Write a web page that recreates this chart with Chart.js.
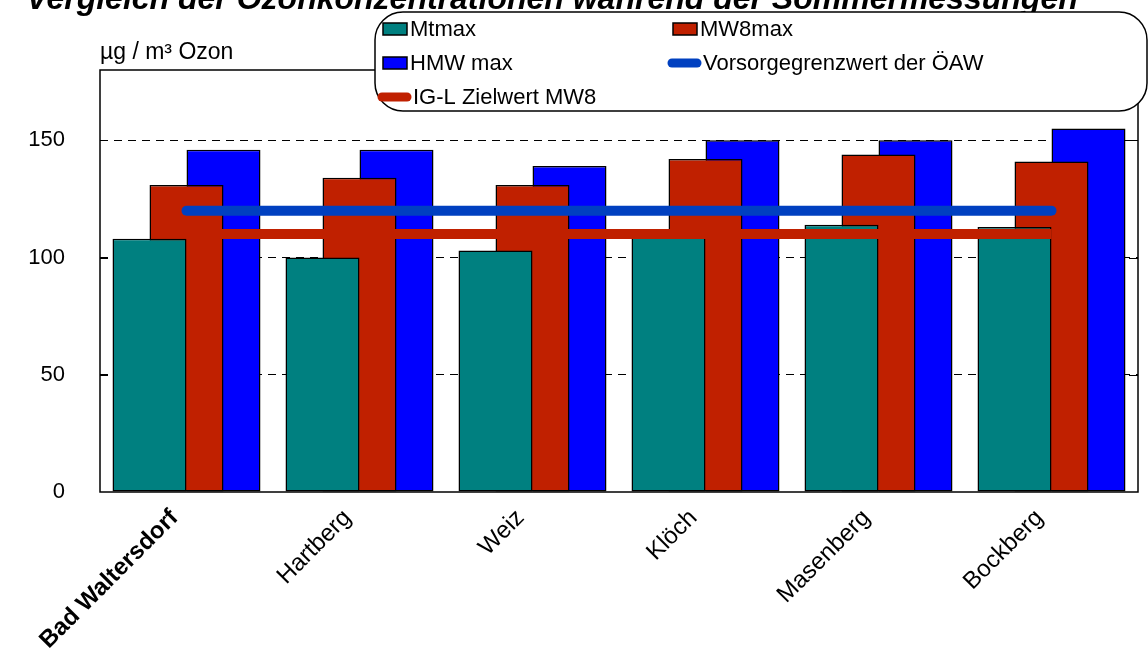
<!DOCTYPE html>
<html>
<head>
<meta charset="utf-8">
<script src="https://cdn.jsdelivr.net/npm/chart.js@4/dist/chart.umd.min.js"></script>
<style>
  html, body { margin: 0; padding: 0; background: #fff; }
</style>
</head>
<body>
<canvas id="ozonChart" width="1148" height="669"></canvas>
<script>
const categories = ["Bad Waltersdorf", "Hartberg", "Weiz", "Klöch", "Masenberg", "Bockberg"];
const mtmax = [108, 100, 103, 112, 114, 113];
const mw8max = [131, 134, 131, 142, 144, 141];
const hmwMax = [146, 146, 139, 150, 150, 155];
const vorsorgeWert = [120, 120, 120, 120, 120, 120];
const zielwertMW8 = [110, 110, 110, 110, 110, 110];
const yTicks = [0, 50, 100, 150];

const FONT = "'Liberation Sans', Arial, sans-serif";

// title, unit label, rounded legend box, plot frame
const decorPlugin = {
  id: "decor",
  afterDatasetsDraw(chart) {
    const { ctx, chartArea: a, scales: { y } } = chart;
    ctx.save();
    ctx.strokeStyle = "#000";
    ctx.lineWidth = 1.5;
    ctx.strokeRect(a.left, a.top, a.right - a.left, a.bottom - a.top);
    ctx.lineWidth = 1;
    yTicks.slice(1).forEach(v => {
      const py = Math.round(y.getPixelForValue(v)) + 0.5;
      ctx.beginPath();
      ctx.moveTo(a.left, py); ctx.lineTo(a.left + 8, py);
      ctx.moveTo(a.right - 9, py); ctx.lineTo(a.right, py);
      ctx.stroke();
    });
    ctx.restore();
  },
  afterDraw(chart) {
    const { ctx } = chart;
    const ds = chart.data.datasets;
    ctx.save();

    ctx.fillStyle = "#000";
    ctx.font = "italic bold 32px " + FONT;
    ctx.textAlign = "center";
    ctx.textBaseline = "alphabetic";
    ctx.fillText("Vergleich der Ozonkonzentrationen während der Sommermessungen", 552, 9);

    ctx.font = "23px " + FONT;
    ctx.textAlign = "left";
    ctx.fillText("µg / m³ Ozon", 100, 59);

    // legend
    ctx.beginPath();
    ctx.roundRect(375, 12, 772, 99, 28);
    ctx.fillStyle = "#fff";
    ctx.fill();
    ctx.lineWidth = 1.5;
    ctx.strokeStyle = "#000";
    ctx.stroke();

    const colX = [383, 673];
    const rowY = [29, 63, 97];
    ctx.textBaseline = "middle";
    ds.forEach((d, i) => {
      const x = colX[i % 2];
      const yy = rowY[Math.floor(i / 2)];
      let tx;
      if (d.type === "line") {
        ctx.beginPath();
        ctx.lineCap = "round";
        ctx.lineWidth = 9;
        ctx.strokeStyle = d.borderColor;
        ctx.moveTo(x - 1, yy);
        ctx.lineTo(x + 24, yy);
        ctx.stroke();
        tx = x + 30;
      } else {
        ctx.fillStyle = d.backgroundColor;
        ctx.fillRect(x, yy - 6, 24, 12);
        ctx.lineWidth = 1.5;
        ctx.strokeStyle = "#000";
        ctx.strokeRect(x, yy - 6, 24, 12);
        tx = x + 27;
      }
      ctx.fillStyle = "#000";
      ctx.font = "22px " + FONT;
      ctx.fillText(d.label, tx, yy + 1);
    });
    ctx.restore();
  }
};

const barStyle = {
  type: "bar",
  borderColor: "#000",
  borderWidth: 1.5,
  borderSkipped: false,
  barPercentage: 2,
  categoryPercentage: 0.6416
};

new Chart(document.getElementById("ozonChart"), {
  data: {
    labels: categories,
    datasets: [
      { ...barStyle, label: "Mtmax", data: mtmax, backgroundColor: "#008080", order: 1 },
      { ...barStyle, label: "MW8max", data: mw8max, backgroundColor: "#C02000", order: 2 },
      { ...barStyle, label: "HMW max", data: hmwMax, backgroundColor: "#0000FF", order: 3 },
      { type: "line", label: "Vorsorgegrenzwert der ÖAW", data: vorsorgeWert, borderColor: "#0040C0",
        borderWidth: 10, borderCapStyle: "round", pointRadius: 0, fill: false, order: 0 },
      { type: "line", label: "IG-L Zielwert MW8", data: zielwertMW8, borderColor: "#C02000",
        borderWidth: 10, borderCapStyle: "butt", pointRadius: 0, fill: false, order: 0 }
    ]
  },
  options: {
    responsive: false,
    animation: false,
    layout: { padding: { top: 70, right: 10, left: 0, bottom: 0 } },
    plugins: { legend: { display: false }, tooltip: { enabled: false } },
    scales: {
      x: {
        offset: true,
        grid: { display: false },
        border: { display: false },
        ticks: {
          color: "#000",
          autoSkip: false,
          minRotation: 45,
          maxRotation: 45,
          padding: 4,
          labelOffset: -12,
          font: c => ({ family: FONT, size: 24, weight: c.index === 0 ? "bold" : "normal" })
        },
        afterFit: s => { s.height = 177; }
      },
      y: {
        min: 0,
        max: 180,
        afterBuildTicks: s => { s.ticks = yTicks.map(v => ({ value: v })); },
        grid: {
          color: c => (c.tick && c.tick.value === 0) ? "rgba(0,0,0,0)" : "#000",
          lineWidth: 1,
          drawTicks: false
        },
        border: { display: false, dash: [8, 6] },
        ticks: { color: "#000", padding: 35, font: { family: FONT, size: 22 } },
        afterFit: s => { s.width = 100; }
      }
    }
  },
  plugins: [decorPlugin]
});
</script>
</body>
</html>
